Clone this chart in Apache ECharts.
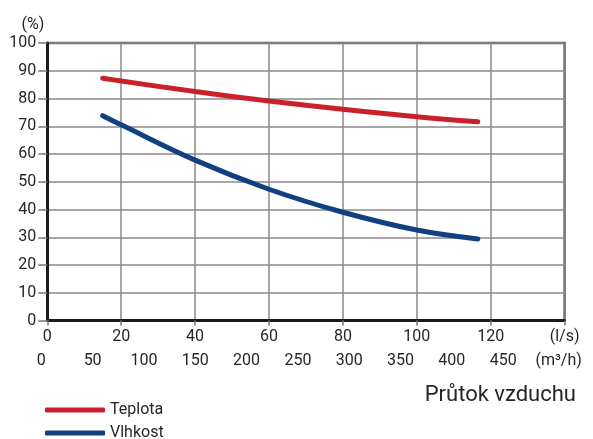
<!DOCTYPE html>
<html>
<head>
<meta charset="utf-8">
<script src="https://cdn.jsdelivr.net/npm/echarts@6/dist/echarts.min.js"></script>
<style>
html,body{margin:0;padding:0;background:#fff;}
#c{width:593px;height:439px;}
</style>
</head>
<body>
<div id="c"></div>
<script>
// Data (x in l/s, y in %)
const seriesNames = ['Teplota', 'Vlhkost'];
const teplota = [[15, 87.3], [20, 86.3], [40, 82.5], [60, 79.1], [80, 76.1], [100, 73.4], [116.5, 71.6]];
const vlhkost = [[15, 73.8], [20, 70.5], [40, 57.8], [60, 47.3], [80, 39.0], [100, 32.6], [116.5, 29.4]];
const xUnitLs = '(l/s)';
const xUnitM3h = '(m³/h)';
const yUnit = '(%)';
const xTitle = 'Průtok vzduchu';
const lsMax = 140, lsStep = 20;
const m3hMax = 504, m3hStep = 50;

const FONT = 'Roboto';
const TXT = '#262626';

function legendFor(name, top) {
  return {
    orient: 'vertical', left: 45, top: top, padding: 0,
    itemWidth: 60, itemHeight: 5, itemGap: 0,
    icon: 'roundRect',
    textStyle: {fontFamily: FONT, fontSize: 16, color: TXT},
    data: [name]
  };
}

const chart = echarts.init(document.getElementById('c'), null, {renderer: 'canvas'});
chart.setOption({
  animation: false,
  textStyle: {fontFamily: FONT, color: TXT},
  grid: {left: 47.3, right: 28.4, top: 43, bottom: 118.5, show: true, borderColor: '#5a5a5a', borderWidth: 2.5, backgroundColor: 'transparent'},
  legend: [legendFor(seriesNames[0], 402), legendFor(seriesNames[1], 425)],
  graphic: [{
    type: 'text', right: 17, top: 384,
    style: {text: xTitle, font: '22px ' + FONT, fill: TXT}
  }],
  xAxis: [{
    type: 'value', min: 0, max: lsMax, interval: lsStep,
    axisLine: {show: true, onZero: false, lineStyle: {color: '#1a1a1a', width: 3}},
    axisTick: {show: true, length: 5, lineStyle: {color: '#777', width: 1.5}},
    splitLine: {show: true, lineStyle: {color: '#8a8a8a', width: 1.5}},
    axisLabel: {margin: 8, fontSize: 16, color: TXT, fontFamily: FONT,
      formatter: v => v === lsMax ? xUnitLs : String(v)}
  }, {
    type: 'value', min: 0, max: m3hMax, interval: m3hStep, position: 'bottom', offset: 22,
    axisLine: {show: false}, axisTick: {show: false}, splitLine: {show: false},
    axisLabel: {margin: 10, fontSize: 16, color: TXT, fontFamily: FONT, showMaxLabel: true,
      formatter: v => v === m3hMax ? xUnitM3h : (v > 450 ? '' : String(v)),
      padding: [0, 12, 0, 0]}
  }],
  yAxis: {
    type: 'value', min: 0, max: 100, interval: 10,
    name: yUnit, nameLocation: 'end', nameGap: 10,
    nameTextStyle: {fontSize: 16, color: TXT, fontFamily: FONT, align: 'right', padding: [0, 3, 0, 0]},
    axisLine: {show: true, lineStyle: {color: '#1a1a1a', width: 3}},
    axisTick: {show: true, length: 9, lineStyle: {color: '#777', width: 1.5}},
    splitLine: {show: true, lineStyle: {color: '#8a8a8a', width: 1.5}},
    axisLabel: {margin: 11, fontSize: 16, color: TXT, fontFamily: FONT}
  },
  series: [{
    name: seriesNames[0], type: 'line', xAxisIndex: 0, data: teplota, smooth: 0.4,
    showSymbol: false, symbol: 'none', color: '#c9202a',
    lineStyle: {width: 5, cap: 'round', color: '#c9202a'}
  }, {
    name: seriesNames[1], type: 'line', xAxisIndex: 0, data: vlhkost, smooth: 0.4,
    showSymbol: false, symbol: 'none', color: '#123f7f',
    lineStyle: {width: 5, cap: 'round', color: '#123f7f'}
  }]
});
</script>
</body>
</html>
